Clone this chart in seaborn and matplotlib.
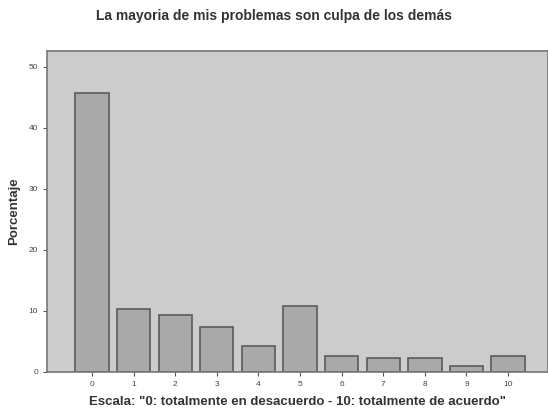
import matplotlib
matplotlib.use("Agg")
import matplotlib.pyplot as plt
import seaborn as sns
import pandas as pd

# Datos
categorias = ["0", "1", "2", "3", "4", "5", "6", "7", "8", "9", "10"]
porcentaje = [45.7, 10.3, 9.4, 7.4, 4.3, 10.8, 2.6, 2.3, 2.3, 0.9, 2.6]

df = pd.DataFrame({"Escala": categorias, "Porcentaje": porcentaje})

sns.set_style("white")
plt.rcParams['font.family'] = ['Liberation Sans', 'DejaVu Sans']

fig = plt.figure(figsize=(5.48, 4.17), dpi=100)
ax = fig.add_axes([0.086, 0.108, 0.914, 0.77])
ax.set_facecolor("#cccccc")

sns.barplot(data=df, x="Escala", y="Porcentaje", color="#a9a9a9", saturation=1,
            edgecolor="#5a5a5a", linewidth=1.2, width=0.8, ax=ax)

ax.set_ylim(0, 52.6)
ax.set_xlim(-1.08, 10.96)
ax.set_yticks([0, 10, 20, 30, 40, 50])
ax.tick_params(axis="both", labelsize=6, length=3, color="#555555", labelcolor="#444444")
ax.tick_params(axis="both", direction="out", bottom=True, left=True)

for s in ax.spines.values():
    s.set_color("#777777")
    s.set_linewidth(1.2)

ax.set_ylabel("Porcentaje", fontsize=9.5, fontweight="bold", color="#333333", labelpad=6)
ax.set_xlabel("Escala: \"0: totalmente en desacuerdo - 10: totalmente de acuerdo\"",
              fontsize=9.5, fontweight="bold", color="#333333", labelpad=6)
fig.text(0.50, 0.962, "La mayoria de mis problemas son culpa de los demás",
         ha="center", va="center", fontsize=10, fontweight="bold", color="#333333")

fig.savefig("out.png", dpi=100)
